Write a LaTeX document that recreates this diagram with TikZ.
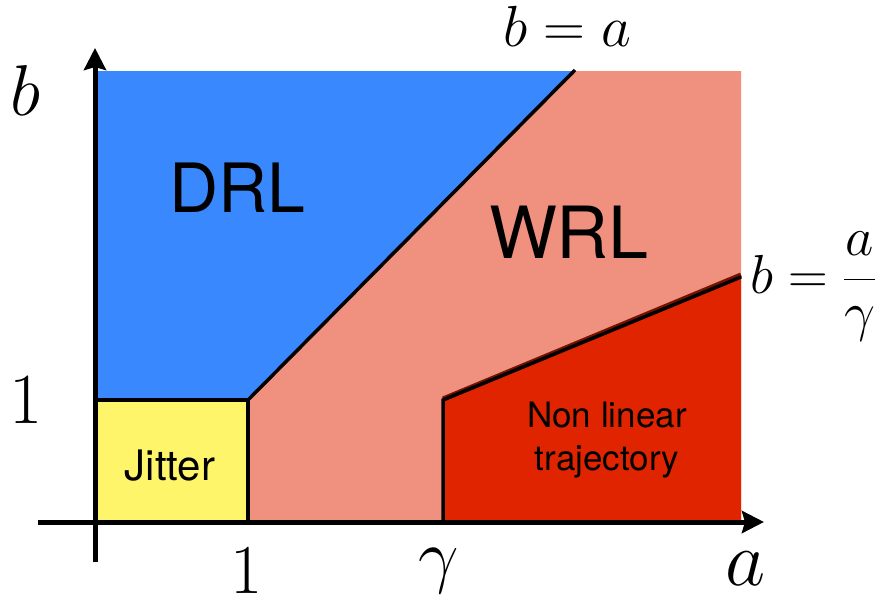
\documentclass[tikz,border=0pt]{standalone}
\usepackage{fix-cm}
\usepackage{fontspec}
\newfontfamily\labfont{TeX Gyre Heros}
\usetikzlibrary{arrows.meta}
\definecolor{drlblue}{RGB}{58,136,254}
\definecolor{wrlsalmon}{RGB}{240,145,128}
\definecolor{nlred}{RGB}{225,36,0}
\definecolor{jityellow}{RGB}{255,245,106}
\definecolor{edgered}{RGB}{120,18,0}
\begin{document}
\begin{tikzpicture}[x=1pt,y=-1pt,
  axis/.style={line width=5pt,-{Stealth[length=22pt,width=22pt,inset=3pt]}},
  border/.style={line width=3.5pt,black},
  region/.style={anchor=base,inner sep=0pt,align=center},
  mathlab/.style={anchor=base,inner sep=0pt}]
\useasboundingbox (0,0) rectangle (887,603);
% regions
\fill[drlblue] (95,71) -- (574,71) -- (248,400) -- (95,400) -- cycle;
\fill[wrlsalmon] (574,71) -- (741,71) -- (741,522) -- (248,522) -- (248,400) -- cycle;
\fill[nlred] (443,400) -- (741,276) -- (741,522) -- (443,522) -- cycle;
\fill[jityellow] (95,400) rectangle (248,522);
% coordinates
\coordinate (j1) at (95,400);
\coordinate (j2) at (248,400);
\coordinate (j3) at (248,522);
\coordinate (d2) at (575,70);
\coordinate (g0) at (443,522);
\coordinate (g1) at (443,400);
\coordinate (g2) at (741,276);
\coordinate (ys) at (95,562);
\coordinate (ye) at (95,48);
\coordinate (xs) at (38,522);
\coordinate (xe) at (764,522);
% borders
\draw[border] (j1) -- (j2) -- (j3);
\draw[border] (j2) -- (d2);
\draw[line width=5pt,edgered] ([yshift=1pt]g1) -- ([yshift=1pt]g2);
\draw[border] (g0) -- (g1) -- ([yshift=-1pt]g2);
% axes
\draw[axis] (ys) -- (ye);
\draw[axis] (xs) -- (xe);
% region labels
\node[region,font=\labfont\fontsize{68}{68}\selectfont] (drl) at (237,212) {DRL};
\node[region,font=\labfont\fontsize{72}{72}\selectfont] (wrl) at (569,258) {WRL};
\node[region,font=\labfont\fontsize{42}{42}\selectfont] (jit) at (170,480) {Jitter};
\node[region,font=\labfont\fontsize{35}{35}\selectfont] (nl1) at (607,427) {Non linear};
\node[region,font=\labfont\fontsize{35}{35}\selectfont] (nl2) at (607,470) {trajectory};
% axis labels
\node[mathlab,font=\fontsize{72}{72}\selectfont] (lb) at (25,115) {$b$};
\node[mathlab,font=\fontsize{72}{72}\selectfont] (l1) at (26,423) {$1$};
\node[mathlab,font=\fontsize{70}{70}\selectfont] (b1) at (247,593) {$1$};
\node[mathlab,font=\fontsize{72}{72}\selectfont] (bg) at (439,579) {$\gamma$};
\node[mathlab,font=\fontsize{78}{78}\selectfont] (ba) at (746,585) {$a$};
\node[mathlab,anchor=base west,font=\fontsize{58}{58}\selectfont] (eq1) at (503,46) {$b=a$};
\node[mathlab,anchor=base west,font=\fontsize{55}{55}\selectfont] (eq2) at (750,293) {$b=\displaystyle\frac{a}{\gamma}$};
\end{tikzpicture}
\end{document}
